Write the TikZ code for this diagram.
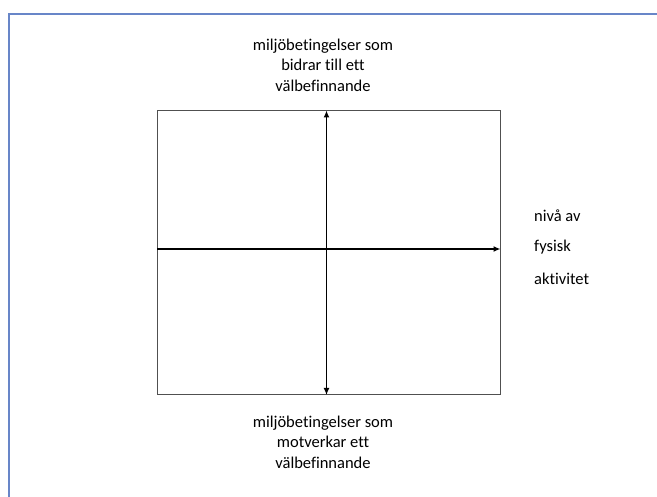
\documentclass[tikz,border=0pt]{standalone}
\usepackage{fontspec}
\setmainfont{Carlito}[RawFeature=-liga]
\usetikzlibrary{arrows.meta}
\definecolor{frameblue}{RGB}{104,134,200}
\definecolor{boxgray}{RGB}{80,80,80}
\tikzset{
  label text/.style={font=\fontsize{16.5}{20.5}\selectfont, inner sep=0pt, align=center},
  side text/.style={font=\fontsize{16.5}{20.5}\selectfont, inner sep=0pt, anchor=west},
  axis/.style={line width=1.6pt, draw=black},
  tip/.style={-{Latex[length=7pt,width=6pt]}},
}
\begin{document}
\begin{tikzpicture}[x=1pt,y=-1pt]
  \useasboundingbox (0,0) rectangle (657,497);
  % page frame
  \draw[frameblue, line width=2pt] (9,500) -- (9,14) -- (660,14);
  % quadrant box
  \draw[boxgray, line width=1pt] (157,110.5) rectangle (500.5,395);
  % axes
  \coordinate (top) at (326.5,110.5);
  \coordinate (bottom) at (326.5,395);
  \coordinate (left) at (157,249);
  \coordinate (right) at (500.5,249);
  \draw[axis, {Latex[length=7pt,width=6pt]}-{Latex[length=7pt,width=6pt]}] (bottom) -- (top);
  \draw[axis, tip] (left) -- (right);
  % labels
  \node[label text] (upper) at (323,65) {miljöbetingelser som\\bidrar till ett\\välbefinnande};
  \node[label text] (lower) at (323,442) {miljöbetingelser som\\motverkar ett\\välbefinnande};
  \node[side text] (s1) at (534,216) {nivå av};
  \node[side text] (s2) at (534,247) {fysisk};
  \node[side text] (s3) at (534,279) {aktivitet};
\end{tikzpicture}
\end{document}
